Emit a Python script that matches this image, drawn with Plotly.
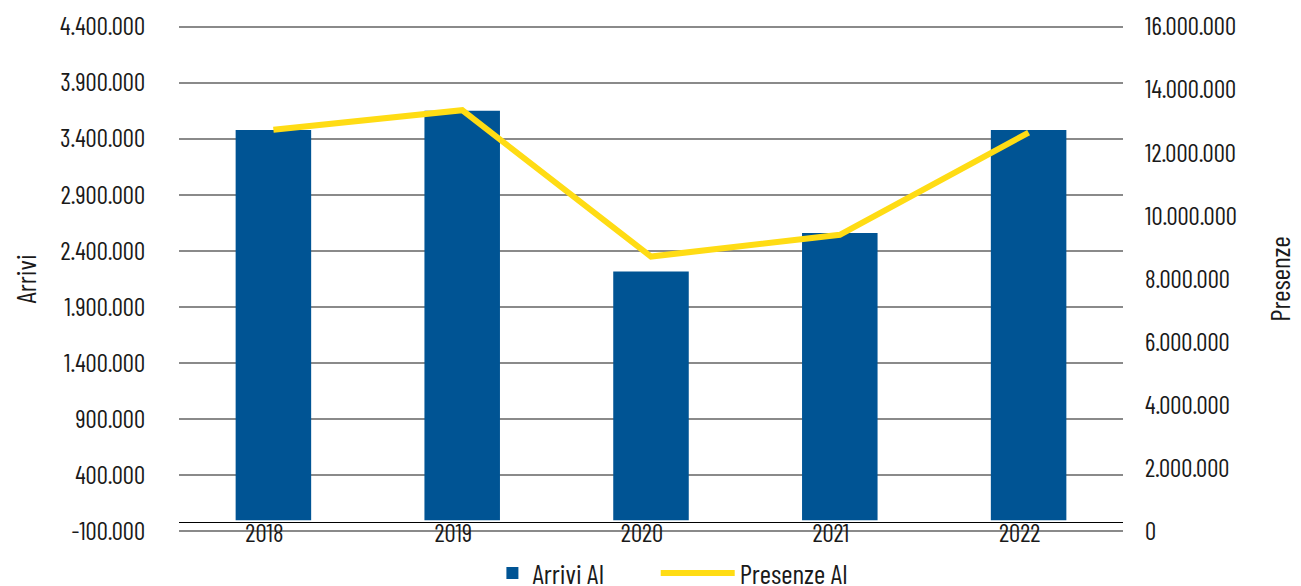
import plotly.graph_objects as go

years = ["2018", "2019", "2020", "2021", "2022"]
arrivi = [3478000, 3649000, 2217000, 2560000, 3478000]
presenze = [12730000, 13350000, 8710000, 9400000, 12640000]

left_ticks = list(range(-100000, 4400001, 500000))
right_ticks = list(range(0, 16000001, 2000000))


def fmt(v):
    s = f"{abs(v):,}".replace(",", ".")
    return ("-" if v < 0 else "") + s


FONT = "Barlow Condensed, Liberation Sans Narrow, DejaVu Sans Condensed, sans-serif"
BLUE = "#005494"
YELLOW = "#FFDC14"

ymin, ymax = left_ticks[0], left_ticks[-1]
eps = (ymax - ymin) * 0.003
r_min, r_max = right_ticks[0], right_ticks[-1]
r_eps = (r_max - r_min) * 0.003

fig = go.Figure()
fig.add_trace(go.Bar(x=years, y=arrivi, name="Arrivi AI", marker_color=BLUE,
                     marker_line_width=0, yaxis="y", legend="legend"))
fig.add_trace(go.Scatter(x=years, y=presenze, name="Presenze AI", mode="lines",
                         line=dict(color=YELLOW, width=6), yaxis="y2", legend="legend2"))

fig.update_layout(
    width=1301, height=586,
    margin=dict(l=171, r=186, t=17, b=61, autoexpand=False),
    paper_bgcolor="white", plot_bgcolor="white",
    font=dict(family=FONT, size=25, color="#1a1a1a"),
    bargap=0.6,
    showlegend=True,
    legend=dict(orientation="h", x=0.332, xanchor="left", y=-0.079, yanchor="middle",
                font=dict(size=27.5), itemwidth=30, bgcolor="rgba(0,0,0,0)"),
    legend2=dict(orientation="h", x=0.505, xanchor="left", y=-0.079, yanchor="middle",
                 font=dict(size=27.5), itemwidth=74, bgcolor="rgba(0,0,0,0)"),
    xaxis=dict(type="category", range=[-0.5, 4.5], anchor="free",
               position=(0 - ymin) / (ymax - ymin),
               showline=True, linecolor="#000000", linewidth=1,
               showgrid=False, ticks="", ticklabelshift=-9, ticklabelstandoff=-11,
               automargin=False),
    yaxis=dict(range=[ymin - eps, ymax + eps], tickvals=left_ticks,
               ticktext=[fmt(v) for v in left_ticks],
               showgrid=True, gridcolor="#8a8a8a", gridwidth=1.5,
               zeroline=False, showline=False, ticks="",
               ticklabelstandoff=33, automargin=False,
               title=dict(text="Arrivi", standoff=33, font=dict(size=27.5))),
    yaxis2=dict(range=[r_min - r_eps, r_max + r_eps], tickvals=right_ticks,
                ticktext=[fmt(v) for v in right_ticks],
                overlaying="y", side="right", showgrid=False, zeroline=False,
                showline=False, ticks="", ticklabelstandoff=21, automargin=False,
                title=dict(text="Presenze", standoff=34, font=dict(size=27.5))),
)

fig.write_html("out.html")
